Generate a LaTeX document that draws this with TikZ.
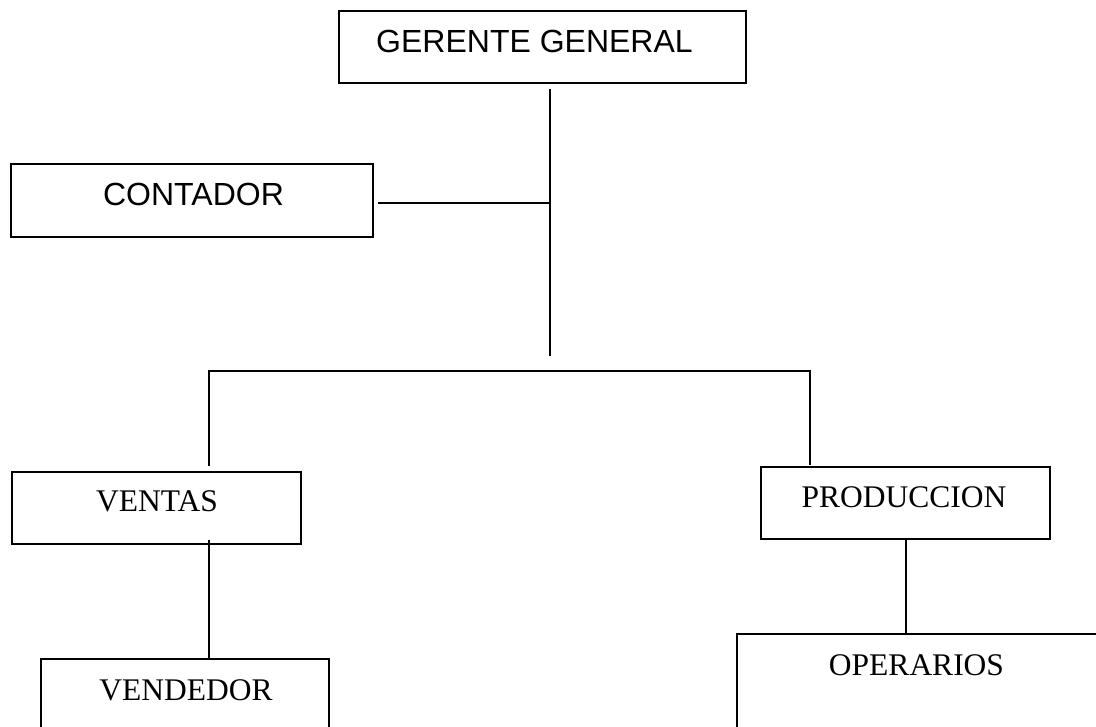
\documentclass[tikz,border=0pt]{standalone}
\usepackage{fontspec}
\setmainfont{Liberation Serif}
\newfontfamily\arialfont{Liberation Sans}
\tikzset{
  box/.style={draw, line width=1.5pt, inner sep=0pt},
  sanslab/.style={inner sep=0pt, font=\arialfont\fontsize{32}{38}\selectfont},
  seriflab/.style={inner sep=0pt, font=\fontsize{31.5}{38}\selectfont},
  link/.style={line width=1.4pt}
}
\begin{document}
\begin{tikzpicture}[x=1pt, y=-1pt]
  \clip (0,0) rectangle (1096,727);
  \fill[white] (0,0) rectangle (1096,727);
  % boxes
  \foreach \name/\x/\y/\w/\h in {
    gerente/542.5/47/407/72,
    contador/192/200.5/362/73,
    ventas/156.5/508/289/72,
    produccion/905.5/503/289/72,
    vendedor/185/709.5/288/101,
    operarios/938.5/697/403/126
  }{
    \node[box, minimum width=\w pt, minimum height=\h pt] (\name) at (\x,\y) {};
  }
  \node[sanslab] (gerentet) at (534.5,41) {GERENTE GENERAL};
  \node[sanslab] (contadort) at (193.5,194) {CONTADOR};
  \node[seriflab] (ventast) at (157,501) {VENTAS};
  \node[seriflab] (produccionta) at (904,497) {PRODUCCION};
  \node[seriflab] (vendedort) at (186,690) {VENDEDOR};
  \node[seriflab] (operariost) at (916.5,665) {OPERARIOS};
  % connectors
  \coordinate (hub) at (550,356);
  \coordinate (barL) at (209,371);
  \coordinate (barR) at (810,371);
  \draw[link] ([yshift=-5pt]gerente.south -| hub) -- (hub);
  \draw[link] ([xshift=4pt,yshift=-2.5pt]contador.east) -- ([yshift=-2.5pt]contador.east -| hub);
  \draw[link] ([yshift=5pt]ventas.north -| barL) -- (barL) -- (barR)
    -- ([yshift=1pt]produccion.north -| barR);
  \draw[link] ([yshift=5pt]ventas.south -| barL) -- (vendedor.north -| barL);
  \draw[link] ([xshift=0.5pt]produccion.south) -- ([xshift=0.5pt]produccion.south |- operarios.north);
\end{tikzpicture}
\end{document}
